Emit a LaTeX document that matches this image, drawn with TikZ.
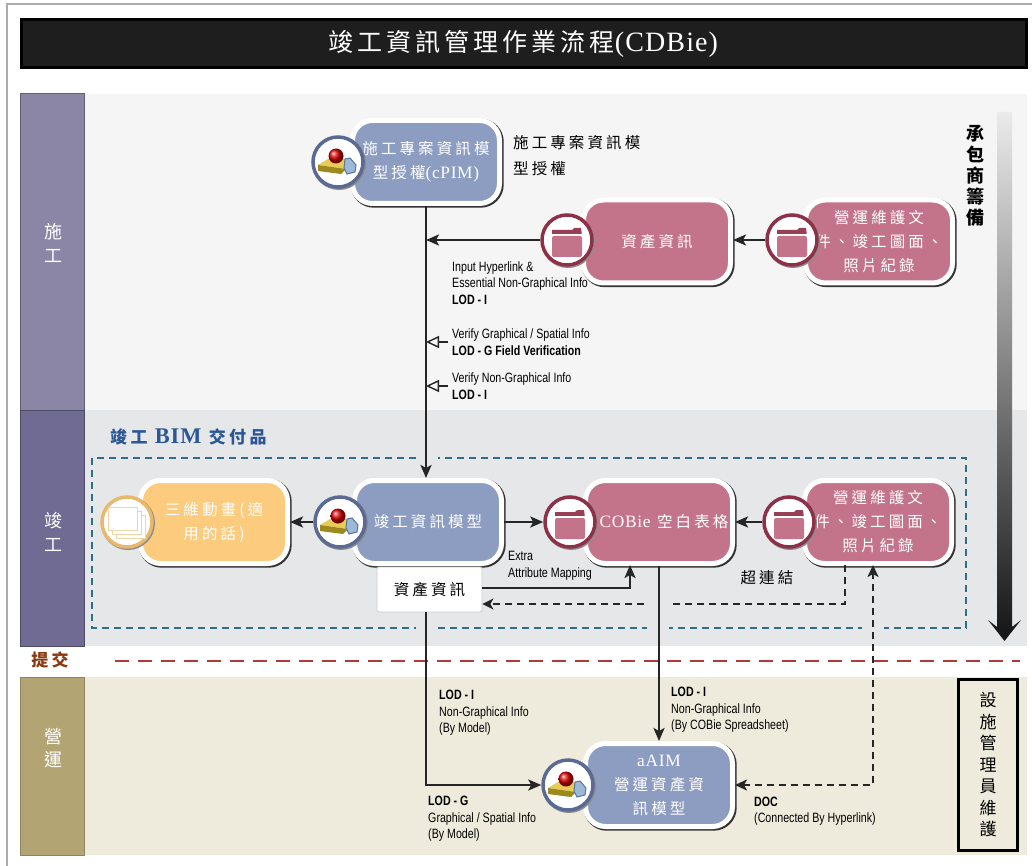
\documentclass[tikz,border=0pt]{standalone}
\usepackage{fontspec}
\usepackage{xcolor}
\usetikzlibrary{
    arrows.meta,
    calc
}
\setmainfont[LetterSpace=20]{Noto Sans CJK TC}
\newfontfamily\titlefont[LetterSpace=16]{Noto Sans CJK TC}
\newfontfamily\latinfont[LetterSpace=4, Scale=1.12]{Liberation Serif}
\newfontfamily\lodfont[FakeStretch=0.79]{Liberation Sans}
\definecolor{frameline}{HTML}{ABABAB}
\definecolor{titlebar}{HTML}{1E1E1E}
\definecolor{lanebuild}{HTML}{8C86A6}
\definecolor{laneasbuilt}{HTML}{6F6B92}
\definecolor{laneoperate}{HTML}{B3A573}
\definecolor{bgbuild}{HTML}{F5F5F5}
\definecolor{bgasbuilt}{HTML}{E6E7E9}
\definecolor{bgoperate}{HTML}{EFEBDC}
\definecolor{dashteal}{HTML}{2F6F85}
\definecolor{submitred}{HTML}{B03A3A}
\definecolor{submittext}{HTML}{8A3A10}
\definecolor{bimblue}{HTML}{2B5797}
\definecolor{modelblue}{HTML}{8D9DC1}
\definecolor{modelring}{HTML}{5A6A94}
\definecolor{docpink}{HTML}{C4748A}
\definecolor{docring}{HTML}{8D3048}
\definecolor{animorange}{HTML}{FCCB7E}
\definecolor{animring}{HTML}{E8B86C}
\definecolor{platetop}{HTML}{E8CC55}
\definecolor{plateedge}{HTML}{9C8A1E}
\definecolor{cubeface}{HTML}{9DB9D6}
\definecolor{cubeedge}{HTML}{54769C}
\tikzset{
    procbox/.style={
        rectangle, rounded corners=20, minimum width=147, minimum height=83, inner sep=0,
        draw=white, line width=5, fill=#1, text=white, align=center,
        font=\fontsize{15.5}{24}\selectfont,
        preaction={draw=black!80, line width=6, transform canvas={shift={(1.2,-1.2)}}}
    },
    iconring/.style={
        circle, minimum size=50, inner sep=0, draw=#1, line width=3.5, fill=white,
        preaction={draw=black!45, line width=4, transform canvas={shift={(1,-1)}}}
    },
    lanelabel/.style={
        rectangle, inner sep=0, text=white, align=center,
        font=\fontsize{18}{23.5}\selectfont
    },
    lodlabel/.style={
        rectangle, inner sep=0, anchor=west, align=left,
        font=\lodfont\fontsize{13.5}{16.5}\selectfont
    },
    blacktext/.style={
        rectangle, inner sep=0, align=#1,
        font=\fontsize{15.5}{26}\selectfont
    },
    flow/.style={line width=2.4, draw=black!85, -{Stealth[length=13,width=11,inset=3]}},
    flowback/.style={line width=1.8, draw=black!85, dash pattern=on 7 off 5, -{Stealth[length=11,width=11,inset=3]}},
    flowdoc/.style={line width=2.6, draw=black!85, dash pattern=on 7 off 5, {Stealth[length=12,width=11,inset=3]}-{Stealth[length=12,width=11,inset=3]}},
    verify/.style={line width=1.4, draw=black!85, shorten <=4, -{Triangle[open,length=13,width=12,fill=none]}},
    modelpic/.pic={
        \fill[platetop] (-20,-3) -- (-10,3) -- (8,3) -- (8,-7) -- cycle;
        \fill[plateedge] (-20,-3) -- (8,-7) -- (3,-12) -- (-20,-9) -- cycle;
        \filldraw[fill=cubeface, draw=cubeedge, line width=1] (7,3) -- (12,4) -- (18,-3) -- (17,-10) -- (9,-12) -- (6,-6) -- cycle;
        \shade[ball color=red!85!black] (-2,6) circle (7.5);
    },
    folderpic/.pic={
        \fill[docring!80!docpink] (-15,4) -- (-15,10) -- (5,10) -- (7,12) -- (14,12) -- (15,4) -- cycle;
        \fill[white] (-15,6) rectangle (15,3);
        \fill[docpink, rounded corners=2] (-15,4) rectangle (15,-17);
    },
    stackpic/.pic={
        \foreach \i in {2,1,0} {
            \filldraw[fill=white, draw=animring!60!white, line width=1] (-19+4*\i,15-4*\i) rectangle (10+4*\i,-8-4*\i);
        }
    }
}

\begin{document}
\begin{tikzpicture}[x=1pt, y=1pt]
    \useasboundingbox (0, 0) rectangle (1032, -866);
    \fill[white] (0, 0) rectangle (1032, -866);
    \draw[frameline, line width=1.5] (1032, -4) -- (7, -4) -- (7, -866);

    \node[rectangle, inner sep=0, minimum width=1005, minimum height=48, fill=titlebar, draw=black, line width=3, text=white, font=\titlefont\fontsize{25}{30}\selectfont] (title) at (523.5, -43.5) {\raisebox{-1.5pt}{竣工資訊管理作業流程{\latinfont(CDBie)}}};

    \fill[bgbuild] (85, -94) rectangle (1027, -410);
    \fill[bgasbuilt] (85, -410) rectangle (1027, -646);
    \fill[bgoperate] (85, -677) rectangle (1027, -855);
    \filldraw[fill=lanebuild, draw=lanebuild!70!black, line width=1] (20, -94) rectangle (84, -410);
    \filldraw[fill=laneasbuilt, draw=laneasbuilt!70!black, line width=1] (20, -410) rectangle (84, -646);
    \filldraw[fill=laneoperate, draw=laneoperate!80!black, line width=1] (20, -677) rectangle (84, -855);
    \node[lanelabel] (lanea) at (53, -243) {施\\工};
    \node[lanelabel] (laneb) at (53, -532) {竣\\工};
    \node[lanelabel] (lanec) at (53, -748) {營\\運};

    \draw[dashteal, line width=1.5, dash pattern=on 7 off 5] (92, -458) rectangle (966, -628);
    \node[rectangle, inner sep=0, anchor=west, text=bimblue, font=\bfseries\fontsize{17}{20}\selectfont] (bimtitle) at (110, -437) {竣工 {\latinfont\fontsize{20}{20}\selectfont BIM} 交付品};

    \node[rectangle, inner sep=0, text=submittext, font=\bfseries\fontsize{17}{20}\selectfont] (submit) at (50, -660) {提交};
    \coordinate (submita) at (115, -661);
    \coordinate (submitb) at (1020, -661);
    \draw[submitred, line width=2.2, dash pattern=on 14 off 9] (submita) -- (submitb);

    \shade[top color=black!8, middle color=black!62, bottom color=black!92] (997, -112) -- (1012, -112) -- (1012, -627) -- (1021, -620) -- (1004.5, -641) -- (988, -620) -- (997, -627) -- cycle;
    \node[rectangle, inner sep=0, align=center, font=\bfseries\fontsize{18}{21}\selectfont] (contractor) at (975, -176) {承\\包\\商\\籌\\備};

    \node[rectangle, inner sep=0, minimum width=59, minimum height=171, draw=black, line width=3.5, align=center, font=\fontsize{17}{21.5}\selectfont] (manager) at (988, -765) {設\\施\\管\\理\\員\\維\\護};

    \node[procbox=modelblue] (cpim) at (426, -162) {施工專案資訊模\\型授權{\latinfont(cPIM)}};
    \node[iconring=modelring] (cpimicon) at (338, -162) {};
    \pic at (cpimicon) {modelpic};
    \node[blacktext=left, anchor=north west] (cpimnote) at (513, -135) {施工專案資訊模\\型授權};

    \node[procbox=docpink] (asset) at (657, -241.5) {資產資訊};
    \node[iconring=docring] (asseticon) at (567, -240) {};
    \pic at (asseticon) {folderpic};
    \node[procbox=docpink] (omdoca) at (879, -241.5) {營運維護文\\件、竣工圖面、\\照片紀錄};
    \node[iconring=docring] (omdocaicon) at (792, -240) {};
    \pic at (omdocaicon) {folderpic};

    \node[procbox=animorange] (anim) at (214, -522) {三維動畫(適\\用的話)};
    \node[iconring=animring] (animicon) at (127, -522) {};
    \pic at (animicon) {stackpic};
    \node[procbox=modelblue] (asbuilt) at (428, -522) {\raisebox{1pt}{竣工資訊模型}};
    \node[iconring=modelring] (asbuilticon) at (340, -522) {};
    \pic at (asbuilticon) {modelpic};
    \node[procbox=docpink] (cobie) at (659, -522) {\hspace*{10pt}\raisebox{1pt}{{\latinfont COBie} 空白表格}};
    \node[iconring=docring] (cobieicon) at (570, -522) {};
    \pic at (cobieicon) {folderpic};
    \node[procbox=docpink] (omdocb) at (878, -522) {營運維護文\\件、竣工圖面、\\照片紀錄};
    \node[iconring=docring] (omdocbicon) at (789, -522) {};
    \pic at (omdocbicon) {folderpic};

    \node[rectangle, rounded corners=2, inner sep=0, minimum width=105, minimum height=45, fill=white, draw=black!20, line width=.8, font=\fontsize{15.5}{20}\selectfont] (assetbox) at (429.5, -589.5) {資產資訊};
    \node[blacktext=center] (hyperlink) at (767, -578) {超連結};

    \node[procbox=modelblue] (aaim) at (659, -785) {{\latinfont aAIM}\\營運資產資\\訊模型};
    \node[iconring=modelring] (aaimicon) at (568, -785) {};
    \pic at (aaimicon) {modelpic};

    \node[lodlabel] (inputinfo) at (452, -283) {Input Hyperlink \&\\Essential Non-Graphical Info\\\textbf{LOD - I}};
    \node[lodlabel] (verifyg) at (452, -342) {Verify Graphical / Spatial Info\\\textbf{LOD - G Field Verification}};
    \node[lodlabel] (verifyn) at (452, -386) {Verify Non-Graphical Info\\\textbf{LOD - I}};
    \node[lodlabel] (extra) at (508, -566) {Extra\\Attribute Mapping};
    \node[lodlabel] (lodmodel) at (439, -713) {\textbf{LOD - I}\\Non-Graphical Info\\(By Model)};
    \node[lodlabel] (lodsheet) at (671, -710) {\textbf{LOD - I}\\Non-Graphical Info\\(By COBie Spreadsheet)};
    \node[lodlabel] (lodg) at (428, -819) {\textbf{LOD - G}\\Graphical / Spatial Info\\(By Model)};
    \node[lodlabel] (lodhyper) at (754, -811) {\textbf{DOC}\\(Connected By Hyperlink)};

    \coordinate (mapin) at (630, -565);
    \coordinate (backout) at (845, -565);
    \coordinate (docin) at (873, -565);
    \coordinate (mapout) at (assetbox.east |- 0, -588);
    \coordinate (backin) at (assetbox.east |- 0, -604);

    \draw[flowback] (backout) |- (backin);
    \foreach \gapx/\gapy in {427/458, 427/628, 658/628, 873/628, 658/604} {
        \fill[bgasbuilt] (\gapx-11, -\gapy-3) rectangle (\gapx+11, -\gapy+3);
    }

    \draw[flow] (cpim.south) -- (cpim.south |- asbuilt.north);
    \draw[flow] (asseticon.west) -- (cpim.south |- asseticon.west);
    \draw[flow] (omdocaicon.west) -- (asset.east |- omdocaicon.west);
    \draw[verify] (verifyg.west) -- (cpim.south |- verifyg.west);
    \draw[verify] (verifyn.west) -- (cpim.south |- verifyn.west);
    \draw[flow] (asbuilticon.west) -- (anim.east |- asbuilticon.west);
    \draw[flow] (asbuilt.east) -- (cobieicon.west);
    \draw[flow] (omdocbicon.west) -- (cobie.east |- omdocbicon.west);
    \draw[flow] (mapout) -| (mapin);
    \draw[flow] (cobie.south) -- (cobie.south |- aaim.north);
    \draw[flow] (cpim.south |- assetbox.south) |- (aaimicon.west);
    \draw[flowdoc] (aaim.east |- aaimicon.east) -| (docin);
\end{tikzpicture}
\end{document}
